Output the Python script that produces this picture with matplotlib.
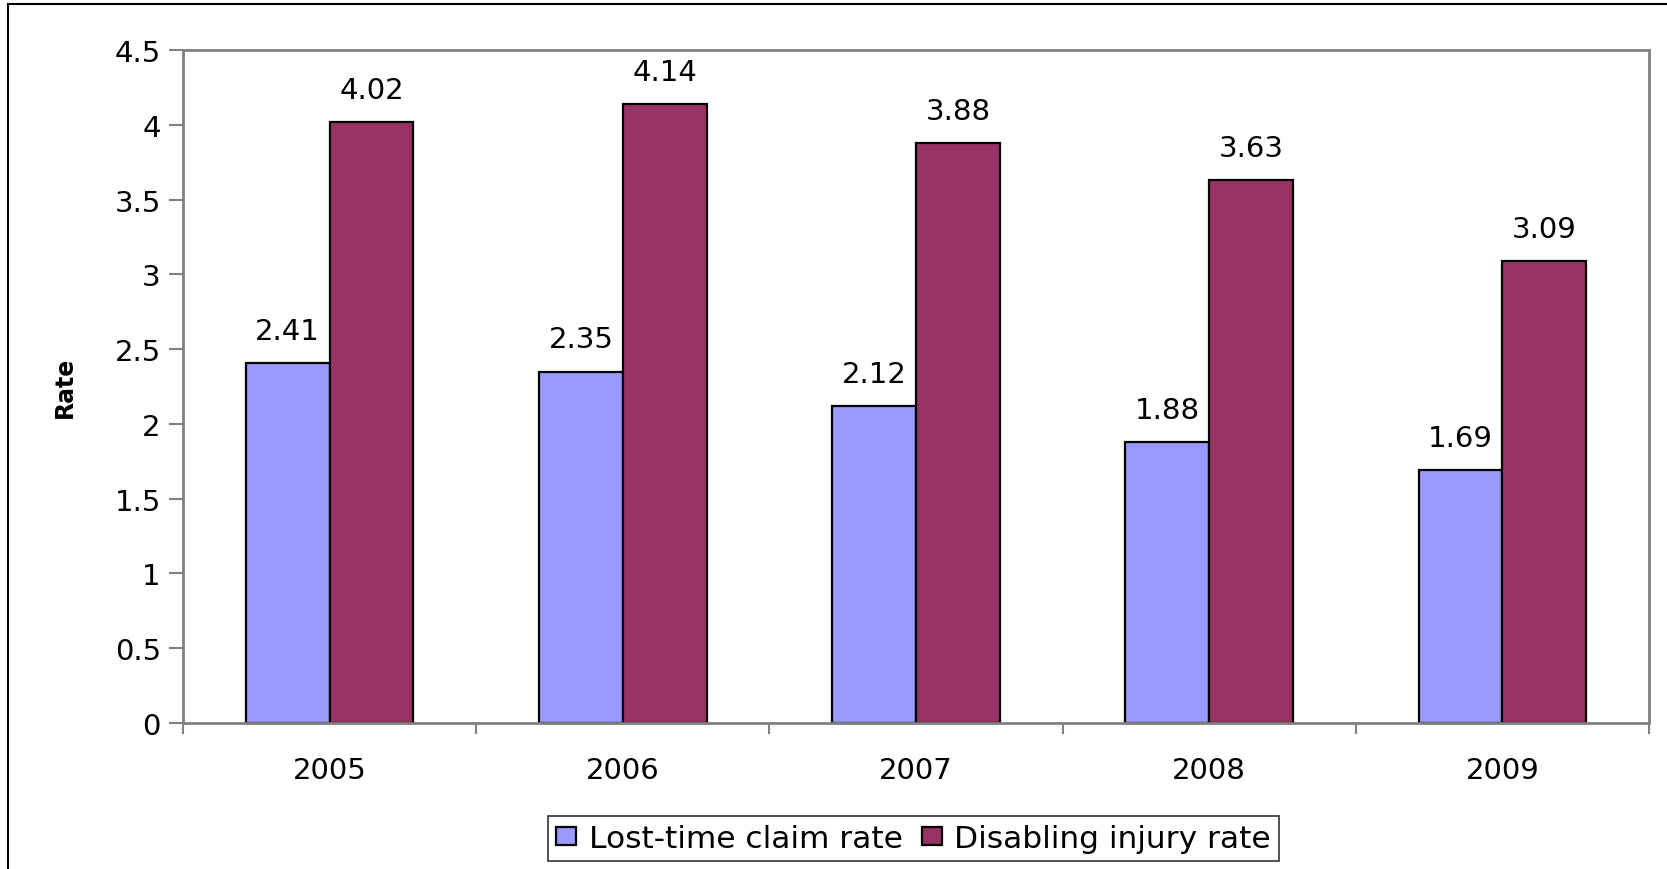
import numpy as np
import matplotlib
matplotlib.use("Agg")
import matplotlib.pyplot as plt
from matplotlib.patches import Rectangle

# data
years = ["2005", "2006", "2007", "2008", "2009"]
lost_time = [2.41, 2.35, 2.12, 1.88, 1.69]
disabling = [4.02, 4.14, 3.88, 3.63, 3.09]

plt.rcParams['font.family'] = ['DejaVu Sans']

fig = plt.figure(figsize=(16.67, 8.70), dpi=100)
ax = fig.add_axes([0.1098, 0.1678, 0.8794, 0.7736])

x = np.arange(len(years))
w = 0.2857
b1 = ax.bar(x - w / 2, lost_time, w, color='#9999FF', edgecolor='black',
            linewidth=1.6, label='Lost-time claim rate')
b2 = ax.bar(x + w / 2, disabling, w, color='#993366', edgecolor='black',
            linewidth=1.6, label='Disabling injury rate')
ax.bar_label(b1, labels=[f"{v:.2f}" for v in lost_time], padding=13, fontsize=21)
ax.bar_label(b2, labels=[f"{v:.2f}" for v in disabling], padding=13, fontsize=21)

ax.set_xlim(-0.5, len(years) - 0.5)
ax.set_ylim(0, 4.5)
ax.set_yticks(np.arange(0, 4.51, 0.5))
ax.set_yticklabels([f"{v:g}" for v in np.arange(0, 4.51, 0.5)])
ax.set_xticks(x)
ax.set_xticklabels(years)
ax.set_xticks(np.arange(-0.5, len(years), 1.0), minor=True)
ax.tick_params(axis='x', which='major', length=0, pad=24, labelsize=21)
ax.tick_params(axis='x', which='minor', length=8, width=1.5, color='#808080', direction='out')
ax.tick_params(axis='y', length=10, width=1.5, color='#808080', pad=6, labelsize=21)

for s in ax.spines.values():
    s.set_color('#808080')
    s.set_linewidth(2)

ax.set_ylabel('Rate', fontsize=17, fontweight='bold', labelpad=27)

leg = fig.legend(handles=[b1, b2], loc='center', bbox_to_anchor=(0.548, 0.035),
                 ncol=2, fontsize=22.5, frameon=True, fancybox=False,
                 handlelength=0.65, handleheight=0.55, handletextpad=0.4,
                 columnspacing=0.6, borderpad=0.25, borderaxespad=0)
leg.get_frame().set_edgecolor('black')
leg.get_frame().set_linewidth(1.2)

# outer chart frame (right and bottom edges fall outside the image)
fig.patches.append(Rectangle((8 / 1667, -0.1), 1.2, (865 / 870) + 0.1,
                             transform=fig.transFigure, fill=False,
                             edgecolor='black', linewidth=1.5))

fig.savefig('out.png', dpi=100)
